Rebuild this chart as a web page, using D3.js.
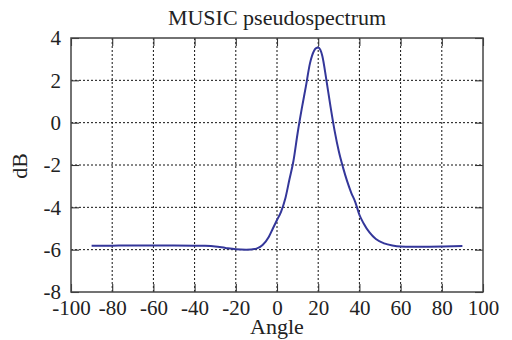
<!DOCTYPE html>
<html>
<head>
<meta charset="utf-8">
<script src="https://cdn.jsdelivr.net/npm/d3@7"></script>
<style>
  body { margin: 0; background: #fff; }
  text { font-family: "Liberation Serif", "Times New Roman", serif; fill: #222; }
</style>
</head>
<body>
<div id="chart"></div>
<script>
// MUSIC pseudospectrum
const angles = [-90, -80, -70, -60, -50, -40, -35, -30, -25, -20, -15, -10, -7, -4, -2,
  0, 2, 4, 6, 8, 10, 12, 14, 16, 18, 19, 20, 21, 22, 24, 26, 28, 30, 32, 34, 36, 38,
  40, 42, 45, 48, 52, 56, 60, 65, 70, 80, 90];
const powerDb = [-5.82, -5.81, -5.80, -5.80, -5.80, -5.81, -5.82, -5.85, -5.92, -5.98, -6.00, -5.95, -5.78, -5.40, -5.0,
  -4.6, -4.2, -3.6, -2.7, -1.8, -0.5, 0.65, 1.7, 2.8, 3.4, 3.52, 3.55, 3.45, 3.15, 2.0, 0.75, -0.4, -1.35, -2.1, -2.75, -3.3, -3.75,
  -4.35, -4.75, -5.2, -5.5, -5.7, -5.8, -5.85, -5.86, -5.86, -5.85, -5.83];
const xTicks = [-100, -80, -60, -40, -20, 0, 20, 40, 60, 80, 100];
const yTicks = [-8, -6, -4, -2, 0, 2, 4];

const width = 512, height = 340;
const margin = { top: 38, right: 29, bottom: 48, left: 71 };
const w = width - margin.left - margin.right,
      h = height - margin.top - margin.bottom;
const fontSize = 21;

const data = angles.map((a, i) => ({ a: a, v: powerDb[i] }));

const svg = d3.select('#chart').append('svg')
  .attr('width', width).attr('height', height);

const g = svg.append('g')
  .attr('transform', `translate(${margin.left},${margin.top})`);

const x = d3.scaleLinear().domain([-100, 100]).range([0, w]);
const y = d3.scaleLinear().domain([-8, 4]).range([h, 0]);

// dotted grid
g.append('g').selectAll('line').data(xTicks.slice(1, -1)).enter().append('line')
  .attr('x1', d => x(d)).attr('x2', d => x(d))
  .attr('y1', 0).attr('y2', h)
  .attr('stroke', '#111').attr('stroke-width', 1).attr('stroke-dasharray', '2,2');
g.append('g').selectAll('line').data(yTicks.slice(1, -1)).enter().append('line')
  .attr('y1', d => y(d)).attr('y2', d => y(d))
  .attr('x1', 0).attr('x2', w)
  .attr('stroke', '#111').attr('stroke-width', 1).attr('stroke-dasharray', '2,2');

// axes, ticks pointing inward; plain hyphen for negatives like the original
const fmt = d => String(d);
const tick = 8;
const xb = g.append('g').attr('transform', `translate(0,${h})`)
  .call(d3.axisBottom(x).tickValues(xTicks).tickSize(-tick).tickPadding(8).tickFormat(fmt));
const xt = g.append('g')
  .call(d3.axisTop(x).tickValues(xTicks).tickSize(-tick).tickFormat(''));
const yl = g.append('g')
  .call(d3.axisLeft(y).tickValues(yTicks).tickSize(-tick).tickPadding(10).tickFormat(fmt));
const yr = g.append('g').attr('transform', `translate(${w},0)`)
  .call(d3.axisRight(y).tickValues(yTicks).tickSize(-tick).tickFormat(''));

[xb, xt, yl, yr].forEach(a => {
  a.select('.domain').remove();
  a.selectAll('line').attr('stroke', '#333').attr('stroke-width', 1.1);
  a.selectAll('text').attr('font-size', fontSize).attr('fill', '#222')
    .attr('font-family', '"Liberation Serif", serif');
});

// box
g.append('rect').attr('x', 0).attr('y', 0).attr('width', w).attr('height', h)
  .attr('fill', 'none').attr('stroke', '#444').attr('stroke-width', 1.5);

// curve
const line = d3.line().x(d => x(d.a)).y(d => y(d.v)).curve(d3.curveMonotoneX);
g.append('path').datum(data)
  .attr('d', line)
  .attr('fill', 'none').attr('stroke', '#34379a').attr('stroke-width', 2);

// labels
svg.append('text').attr('x', margin.left + w / 2).attr('y', 25)
  .attr('text-anchor', 'middle').attr('font-size', fontSize + 1).text('MUSIC pseudospectrum');
svg.append('text').attr('x', margin.left + w / 2).attr('y', 334)
  .attr('text-anchor', 'middle').attr('font-size', fontSize + 1).text('Angle');
svg.append('text').attr('transform', 'translate(27,166) rotate(-90)')
  .attr('text-anchor', 'middle').attr('font-size', fontSize + 1).text('dB');
</script>
</body>
</html>
